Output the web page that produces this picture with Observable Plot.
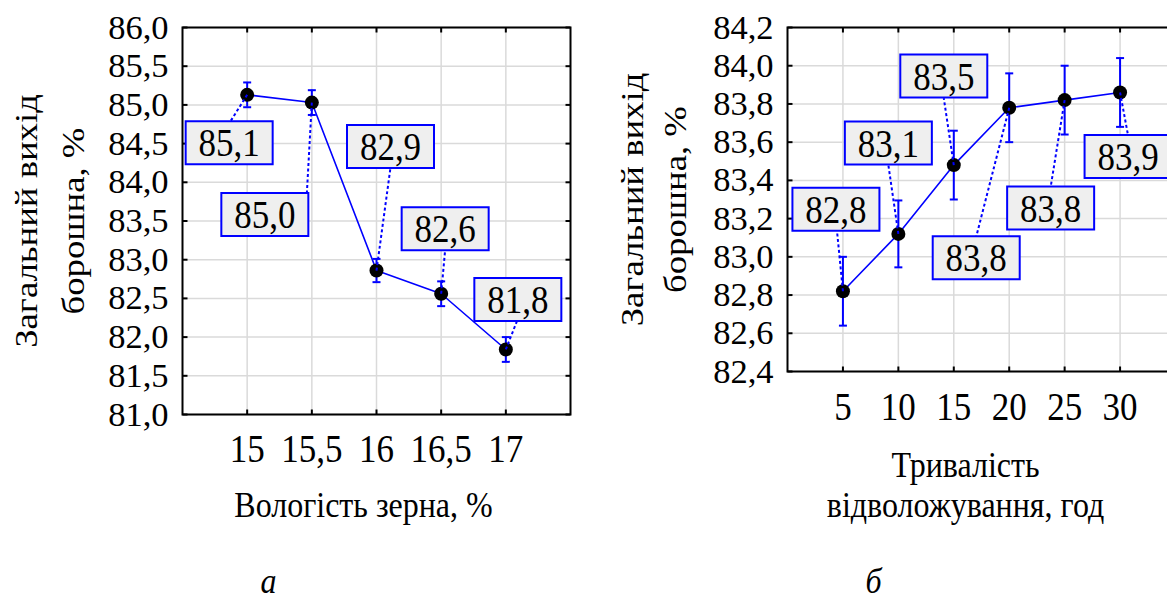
<!DOCTYPE html>
<html><head><meta charset="utf-8">
<script src="https://cdn.jsdelivr.net/npm/d3@7"></script>
<script src="https://cdn.jsdelivr.net/npm/@observablehq/plot@0.6"></script>
<style>
body{margin:0;background:#fff;}
#wrap{position:relative;width:1167px;height:601px;overflow:hidden;background:#fff;}
#wrap svg{position:absolute;top:0;}
</style></head><body><div id="wrap"></div>
<script>
// ---- Panel а : grain moisture ----
const moisture = [15, 15.5, 16, 16.5, 17];
const yieldA = [85.13, 85.03, 82.86, 82.56, 81.84];
const errA = [0.16, 0.16, 0.15, 0.16, 0.16];
const labelsA = ["85,1", "85,0", "82,9", "82,6", "81,8"];
const xTicksA = [15, 15.5, 16, 16.5, 17];
const xTickLabelsA = ["15", "15,5", "16", "16,5", "17"];
const yTicksA = [81, 81.5, 82, 82.5, 83, 83.5, 84, 84.5, 85, 85.5, 86];
const yTickLabelsA = ["81,0","81,5","82,0","82,5","83,0","83,5","84,0","84,5","85,0","85,5","86,0"];

// ---- Panel б : tempering time ----
const hours = [5, 10, 15, 20, 25, 30];
const yieldB = [82.82, 83.12, 83.48, 83.78, 83.82, 83.86];
const errB = [0.18, 0.175, 0.18, 0.18, 0.18, 0.18];
const labelsB = ["82,8", "83,1", "83,5", "83,8", "83,8", "83,9"];
const xTicksB = [5, 10, 15, 20, 25, 30];
const xTickLabelsB = ["5", "10", "15", "20", "25", "30"];
const yTicksB = [82.4, 82.6, 82.8, 83.0, 83.2, 83.4, 83.6, 83.8, 84.0, 84.2];
const yTickLabelsB = ["82,4","82,6","82,8","83,0","83,2","83,4","83,6","83,8","84,0","84,2"];

const yTitle = "Загальний вихід";
const yTitle2 = "борошна, %";
const xTitleA = "Вологість зерна, %";
const xTitleB1 = "Тривалість";
const xTitleB2 = "відволожування, год";
const panelA = "а";
const panelB = "б";

// label placement (pixel offsets from each point: box centre, leader end)
const boxOffA = [[-18,48],[-47,112],[14,-124],[4,-65],[12,-50]];
const leadA  = [[-17,27],[-5,91],[14,-103],[4,-44],[11,-28]];
const boxOffB = [[-7,-82],[-10,-91],[-10,-89],[-33,150],[-14,108],[8,64]];
const leadB  = [[-6,-61],[-10,-69],[-10,-67],[-33,129],[-14,87],[8,43]];

const FONT = "Liberation Serif";
const BLUE = "#0000ff";
const BOXW = 87, BOXH = 43;
const STRETCH = 1.13;

const rectSym = (cx, cy, w, h) => ({draw(ctx){ ctx.rect(cx - w/2, cy - h/2, w, h); }});
const lineSym = (ax, ay) => ({draw(ctx){ ctx.moveTo(0,0); ctx.lineTo(ax, ay); }});
const capSym = {draw(ctx, size){ const w = Math.sqrt(size/Math.PI); ctx.moveTo(-w,0); ctx.lineTo(w,0); }};

function panel(o) {
  const pts = o.xs.map((x, i) => ({x, y: o.ys[i], lo: o.ys[i] - o.errs[i], hi: o.ys[i] + o.errs[i], label: o.labels[i], i}));
  const labelMarks = [];
  pts.forEach((p, i) => {
    const [lx, ly] = o.lead[i];
    labelMarks.push(Plot.dot([p], {x: "x", y: "y", symbol: lineSym(lx, ly), fill: "none", stroke: BLUE, strokeWidth: 2, strokeDasharray: "3,2.5"}));
  });
  pts.forEach((p, i) => {
    const [bx, by] = o.boxOff[i];
    labelMarks.push(Plot.dot([p], {x: "x", y: "y", symbol: rectSym(bx, by, BOXW, BOXH), fill: "#efefef", stroke: BLUE, strokeWidth: 2}));
    labelMarks.push(Plot.text([p], {x: "x", y: "y", text: "label", dx: bx, dy: by + 1, fontSize: 35, fill: "#000"}));
  });
  const tick = (dx, dy) => ({draw(ctx){ ctx.moveTo(0,0); ctx.lineTo(dx, dy); }});
  return Plot.plot({
    width: o.width, height: o.height,
    marginLeft: o.ml, marginRight: o.mr, marginTop: o.mt, marginBottom: o.mb,
    style: {background: "transparent", overflow: "visible"},
    x: {domain: o.xDomain, axis: null},
    y: {domain: o.yDomain, axis: null},
    marks: [
      Plot.gridX(o.xTicks, {stroke: "#dadada", strokeOpacity: 1, strokeWidth: 1.5}),
      Plot.gridY(o.yTicks, {stroke: "#dadada", strokeOpacity: 1, strokeWidth: 1.5}),
      Plot.dot(o.yTicks, {y: d => d, frameAnchor: "left", symbol: tick(5,0), stroke: "#000", strokeWidth: 2}),
      Plot.dot(o.yTicks, {y: d => d, frameAnchor: "right", symbol: tick(-5,0), stroke: "#000", strokeWidth: 2}),
      Plot.dot(o.xTicks, {x: d => d, frameAnchor: "top", symbol: tick(0,5), stroke: "#000", strokeWidth: 2}),
      Plot.dot(o.xTicks, {x: d => d, frameAnchor: "bottom", symbol: tick(0,-5), stroke: "#000", strokeWidth: 2}),
      Plot.frame({stroke: "#000", strokeWidth: 2}),
      Plot.axisY(o.yTicks, {anchor: "left", tickSize: 0, tickPadding: 14, fontSize: 34.5, label: null,
        tickFormat: d => o.yTickLabels[o.yTicks.indexOf(d)]}),
      Plot.axisX(o.xTicks, {anchor: "bottom", tickSize: 0, tickPadding: o.xPad, fontSize: 35, label: null,
        tickFormat: d => o.xTickLabels[o.xTicks.indexOf(d)]}),
      Plot.text([yTitle], {frameAnchor: "left", dx: o.yt1, rotate: -90, fontSize: 32.5, textAnchor: "middle", lineAnchor: "middle"}),
      Plot.text([yTitle2], {frameAnchor: "left", dx: o.yt2, rotate: -90, fontSize: 32.5, textAnchor: "middle", lineAnchor: "middle"}),
      ...o.titles.map(t => Plot.text([t.text], {frameAnchor: "bottom", dx: t.dx, dy: t.dy, fontSize: t.size, fontStyle: t.italic ? "italic" : "normal", textAnchor: "middle", lineAnchor: "middle"})),
      Plot.line(pts, {x: "x", y: "y", stroke: BLUE, strokeWidth: 1.6}),
      Plot.ruleX(pts, {x: "x", y1: "lo", y2: "hi", stroke: BLUE, strokeWidth: 2}),
      Plot.dot(pts, {x: "x", y: "lo", symbol: capSym, r: 4, stroke: BLUE, strokeWidth: 2, fill: "none"}),
      Plot.dot(pts, {x: "x", y: "hi", symbol: capSym, r: 4, stroke: BLUE, strokeWidth: 2, fill: "none"}),
      Plot.dot(pts, {x: "x", y: "y", r: 7, fill: "#000", stroke: "none"}),
      ...labelMarks
    ]
  });
}

// serif font everywhere, and the slightly tall letterforms of the original figure
function finishText(svg) {
  svg.setAttribute("font-family", FONT);
  svg.querySelectorAll("g, text").forEach(el => {
    if (el.hasAttribute("font-family")) el.setAttribute("font-family", FONT);
  });
  svg.querySelectorAll("text").forEach(t => {
    t.style.fontFamily = "'Liberation Serif'";
    const parent = t.closest("g[aria-label]");
    if (parent && /y-axis tick label/.test(parent.getAttribute("aria-label"))) return;
    const tr = t.getAttribute("transform") || "";
    const rotated = /rotate\(/.test(tr);
    t.setAttribute("transform", `${tr} ${rotated ? `scale(${STRETCH},1)` : `scale(1,${STRETCH})`}`);
  });
}

const wrap = document.getElementById("wrap");

const svgA = panel({
  xs: moisture, ys: yieldA, errs: errA, labels: labelsA, boxOff: boxOffA, lead: leadA,
  xDomain: [14.5, 17.5], yDomain: [81, 86],
  xTicks: xTicksA, xTickLabels: xTickLabelsA, yTicks: yTicksA, yTickLabels: yTickLabelsA,
  width: 590, height: 601, ml: 182, mr: 20, mt: 27, mb: 187, xPad: 19,
  yt1: -156, yt2: -109,
  titles: [
    {text: xTitleA, dx: -13, dy: 91, size: 32},
    {text: panelA, dx: -108, dy: 167, size: 32, italic: true}
  ]
});
svgA.style.left = "0px";
finishText(svgA);
wrap.appendChild(svgA);

const svgB = panel({
  xs: hours, ys: yieldB, errs: errB, labels: labelsB, boxOff: boxOffB, lead: leadB,
  xDomain: [0, 35], yDomain: [82.4, 84.2],
  xTicks: xTicksB, xTickLabels: xTickLabelsB, yTicks: yTicksB, yTickLabels: yTickLabelsB,
  width: 600, height: 601, ml: 197, mr: 15, mt: 27, mb: 230, xPad: 20,
  yt1: -155, yt2: -112,
  titles: [
    {text: xTitleB1, dx: -16, dy: 94, size: 32},
    {text: xTitleB2, dx: -16, dy: 134, size: 32},
    {text: panelB, dx: -108, dy: 210, size: 32, italic: true}
  ]
});
svgB.style.left = "590px";
finishText(svgB);
wrap.appendChild(svgB);
</script>
</body></html>
